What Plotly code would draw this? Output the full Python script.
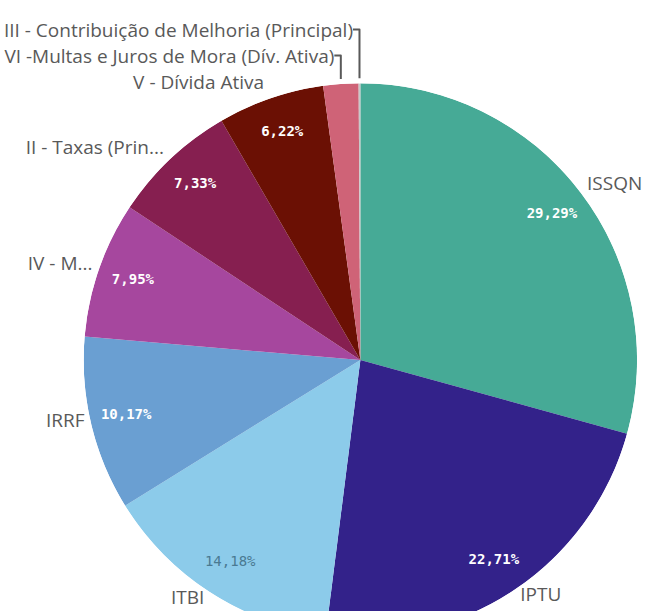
import plotly.graph_objects as go

labels = ["ISSQN", "IPTU", "ITBI", "IRRF", "IV - M...", "II - Taxas (Prin...",
          "V - Dívida Ativa", "VI -Multas e Juros de Mora (Dív. Ativa)",
          "III - Contribuição de Melhoria (Principal)"]
values = [29.29, 22.71, 14.18, 10.17, 7.95, 7.33, 6.22, 2.05, 0.10]
colors = ["#46aa96", "#33228a", "#8ccbea", "#6a9fd2", "#a6479e", "#861f50",
          "#6b1004", "#cf6377", "#c8c8c8"]
pct_font_colors = ["#ffffff", "#ffffff", "#4a7a92", "#ffffff", "#ffffff",
                   "#ffffff", "#ffffff", "#ffffff", "#ffffff"]
pct_weights = ["bold", "bold", "normal", "bold", "bold", "bold", "bold", "bold", "bold"]
show_pct = [True] * 7 + [False, False]

W, H = 656, 640
cx, cy, R = 359, 360, 278
dom_x = [(cx - R) / W, (cx + R) / W]
dom_y = [(H - (cy + R)) / H, (H - (cy - R)) / H]
# label placement circle (slightly raised so the names sit closer to the pie)
lcx, lcy, lR = 359, 355, 278
ldom_x = [(lcx - lR) / W, (lcx + lR) / W]
ldom_y = [(H - (lcy + lR)) / H, (H - (lcy - lR)) / H]

total = sum(values)
mids, widths, acc = [], [], 0.0
for v in values:
    widths.append(v / total * 360)
    mids.append((acc + v / 2) / total * 360)
    acc += v
pct_text = [f"{v / total * 100:.2f}%".replace(".", ",") for v in values]
sel = [i for i, s in enumerate(show_pct) if s]

fig = go.Figure()
fig.add_trace(go.Barpolar(
    r=[1] * len(values), theta=mids, width=widths, base=0,
    marker=dict(color=colors, line=dict(width=0)),
    text=labels, hovertemplate="%{text}<extra></extra>", showlegend=False,
))
fig.add_trace(go.Scatterpolar(
    r=[0.87] * len(sel), theta=[mids[i] for i in sel],
    text=[pct_text[i] for i in sel], mode="text",
    textfont=dict(family="DejaVu Sans Mono", size=14,
                  color=[pct_font_colors[i] for i in sel],
                  weight=[pct_weights[i] for i in sel]),
    showlegend=False, hoverinfo="skip",
))
fig.add_trace(go.Pie(
    labels=labels, values=values, sort=False, direction="clockwise", rotation=0,
    marker=dict(colors=["rgba(0,0,0,0)"] * len(values), line=dict(width=0)),
    textposition="outside", textinfo="label",
    outsidetextfont=dict(family="Open Sans", size=19, color="#595959"),
    domain=dict(x=ldom_x, y=ldom_y), showlegend=False, hoverinfo="skip",
))
fig.update_layout(
    width=W, height=H, margin=dict(l=0, r=0, t=0, b=0),
    paper_bgcolor="white", separators=",.",
    polar=dict(
        domain=dict(x=dom_x, y=dom_y), bgcolor="rgba(0,0,0,0)", hole=0,
        bargap=0,
        radialaxis=dict(range=[0, 1], visible=False, showgrid=False),
        angularaxis=dict(rotation=90, direction="clockwise", visible=False,
                         showgrid=False),
    ),
)
fig.write_html("out.html", config={"displayModeBar": False},
               post_script="document.body.style.margin='0';document.body.style.overflow='hidden';document.documentElement.style.overflow='hidden';")
